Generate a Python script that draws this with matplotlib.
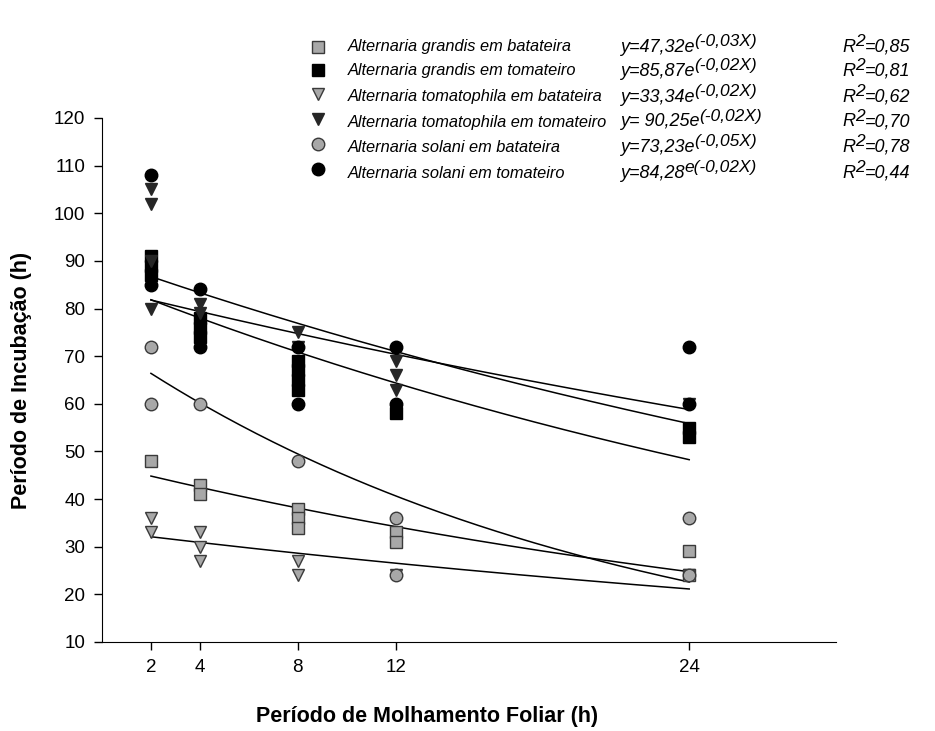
"""Incubation period vs leaf wetness period for three Alternaria species on two hosts."""

import numpy as np
import matplotlib
matplotlib.use('Agg')
import matplotlib.pyplot as plt
from matplotlib.text import Annotation

plt.rcParams['font.family'] = ['Liberation Sans', 'DejaVu Sans']

# observed incubation periods (h) per leaf wetness period (h)
grandis_bat_x = [2, 4, 4, 8, 8, 8, 12, 12, 24, 24]
grandis_bat_y = [48, 43, 41, 38, 36, 34, 33, 31, 29, 24]

grandis_tom_x = [2, 2, 2, 4, 4, 4, 8, 8, 8, 8, 12, 24, 24]
grandis_tom_y = [91, 89, 87, 78, 76, 74, 69, 67, 65, 63, 58, 55, 53]

tomatophila_bat_x = [2, 2, 4, 4, 4, 8, 8, 12, 24]
tomatophila_bat_y = [36, 33, 33, 30, 27, 27, 24, 24, 24]

tomatophila_tom_x = [2, 2, 2, 2, 4, 4, 8, 8, 12, 12, 12, 24]
tomatophila_tom_y = [105, 102, 90, 80, 81, 79, 75, 72, 69, 66, 63, 60]

solani_bat_x = [2, 2, 4, 8, 12, 12, 24, 24]
solani_bat_y = [72, 60, 60, 48, 36, 24, 36, 24]

solani_tom_x = [2, 2, 4, 4, 8, 8, 12, 12, 24, 24]
solani_tom_y = [108, 85, 84, 72, 72, 60, 72, 60, 72, 60]

# exponential fits y = a * exp(-k x)
fit_a = [47.32, 85.87, 33.34, 90.25, 73.23, 84.28]
fit_k = [0.027, 0.024, 0.019, 0.020, 0.049, 0.015]

series_names = [
    'Alternaria grandis em batateira',
    'Alternaria grandis em tomateiro',
    'Alternaria tomatophila em batateira',
    'Alternaria tomatophila em tomateiro',
    'Alternaria solani em batateira',
    'Alternaria solani em tomateiro',
]
eq_base = ['y=47,32e', 'y=85,87e', 'y=33,34e', 'y= 90,25e', 'y=73,23e', 'y=84,28']
eq_sup = ['(-0,03X)', '(-0,02X)', '(-0,02X)', '(-0,02X)', '(-0,05X)', 'e(-0,02X)']
r2_vals = ['=0,85', '=0,81', '=0,62', '=0,70', '=0,78', '=0,44']

x_ticks = [2, 4, 8, 12, 24]
y_ticks = list(range(10, 121, 10))

W, H = 935, 731
GRAY = '#a8a8a8'
EDGE = '#3a3a3a'
styles = [
    dict(marker='s', color=GRAY, edge=EDGE),
    dict(marker='s', color='#000000', edge='#000000'),
    dict(marker='v', color=GRAY, edge=EDGE),
    dict(marker='v', color='#262626', edge='#262626'),
    dict(marker='o', color=GRAY, edge=EDGE),
    dict(marker='o', color='#000000', edge='#000000'),
]
data = [
    (grandis_bat_x, grandis_bat_y),
    (grandis_tom_x, grandis_tom_y),
    (tomatophila_bat_x, tomatophila_bat_y),
    (tomatophila_tom_x, tomatophila_tom_y),
    (solani_bat_x, solani_bat_y),
    (solani_tom_x, solani_tom_y),
]


def px(x, y):
    return x / W, 1 - y / H


fig = plt.figure(figsize=(W / 100, H / 100), dpi=100)
ax = fig.add_axes([102 / W, 1 - 642 / H, (836 - 102) / W, 524 / H])

xs = np.linspace(2, 24, 200)
for a, k in zip(fit_a, fit_k):
    ax.plot(xs, a * np.exp(-k * xs), color='black', lw=1.1, zorder=2)

for (x, y), st in zip(data, styles):
    ax.plot(x, y, linestyle='none', marker=st['marker'], ms=9,
            mfc=st['color'], mec=st['edge'], mew=1.0, zorder=3)

ax.set_xlim(0, 30)
ax.set_ylim(10, 120)
ax.set_xticks(x_ticks)
ax.set_yticks(y_ticks)
ax.spines['top'].set_visible(False)
ax.spines['right'].set_visible(False)
ax.tick_params(direction='out', length=6, width=1, labelsize=13.5, pad=6)
ax.set_xlabel('Período de Molhamento Foliar (h)', fontsize=15.5, fontweight='bold',
              labelpad=22, x=0.443)
ax.set_ylabel('Período de Incubação (h)', fontsize=15.5, fontweight='bold',
              labelpad=16)

# legend block with fitted equations
row_y = [47, 71, 97, 122, 147, 173]
mark_y = [47, 70, 94, 119, 144, 169]
for i, st in enumerate(styles):
    mx, my = px(318, mark_y[i])
    fig.add_artist(plt.Line2D([mx], [my], marker=st['marker'], ms=9,
                              mfc=st['color'], mec=st['edge'], mew=1.0,
                              linestyle='none', transform=fig.transFigure))
    tx, ty = px(348, row_y[i])
    fig.text(tx, ty, series_names[i], fontsize=11.8, style='italic', va='center')

    ex, _ = px(620, 0)
    base = fig.text(ex, ty, eq_base[i], fontsize=13, style='italic', va='center')
    fig.add_artist(Annotation(eq_sup[i], xy=(1, 1), xycoords=base,
                              xytext=(0, -2), textcoords='offset points',
                              fontsize=12.5, style='italic', va='center', ha='left'))

    rx, _ = px(842, 0)
    r = fig.text(rx, ty, 'R', fontsize=13, style='italic', va='center')
    s = Annotation('2', xy=(1, 1), xycoords=r, xytext=(0, -2),
                   textcoords='offset points', fontsize=12.5, style='italic',
                   va='center', ha='left')
    fig.add_artist(s)
    fig.add_artist(Annotation(r2_vals[i], xy=(1, 0), xycoords=(s, r),
                              xytext=(0, 0), textcoords='offset points',
                              fontsize=13, style='italic', va='bottom', ha='left'))

fig.savefig('out.png', dpi=100)
